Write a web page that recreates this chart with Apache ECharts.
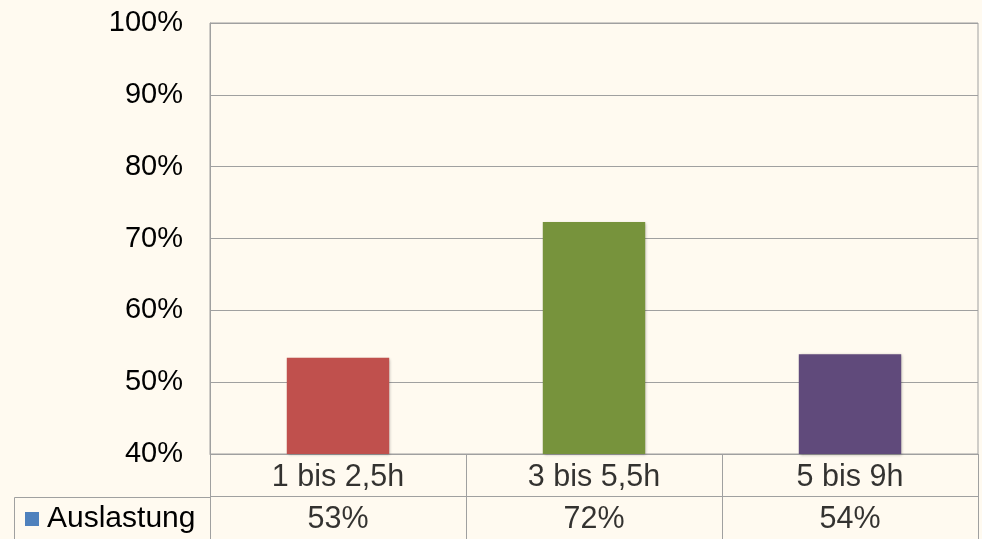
<!DOCTYPE html>
<html>
<head>
<meta charset="utf-8">
<script src="https://cdn.jsdelivr.net/npm/echarts@6/dist/echarts.min.js"></script>
<style>
html,body{margin:0;padding:0;background:#FFFAF0;}
#chart{width:982px;height:539px;}
</style>
</head>
<body>
<div id="chart"></div>
<script>
// Daten
var categories = ['1 bis 2,5h', '3 bis 5,5h', '5 bis 9h'];
var values = [53.4, 72.3, 53.9];
var barColors = ['#C0504D', '#77933C', '#604A7B'];
var seriesName = 'Auslastung';
var yTicks = { min: 40, max: 100, interval: 10 };

var FONT = '"Liberation Sans", Arial, sans-serif';
var GRID_LINE = '#A0A0A0';

var chart = echarts.init(document.getElementById('chart'));

// Tabellenzeilen unter dem Diagramm
var tableRows = ['cat', 'val'];
var tableData = [];
categories.forEach(function (c, i) {
	tableData.push({ value: [c, 'cat'], text: c });
	tableData.push({ value: [c, 'val'], text: Math.round(values[i]) + '%' });
});

var option = {
	backgroundColor: '#FFFAF0',
	textStyle: { fontFamily: FONT },
	legend: {
		data: [seriesName],
		left: 25,
		top: 504,
		icon: 'rect',
		itemWidth: 14,
		itemHeight: 14,
		itemGap: 0,
		padding: 0,
		textStyle: { fontSize: 30, color: '#000', fontFamily: FONT, padding: [0, 0, 0, 3] }
	},
	grid: [
		{ left: 210, right: 4, top: 23, bottom: 85, show: true, borderColor: GRID_LINE, borderWidth: 1, backgroundColor: 'transparent' },
		{ left: 210, right: 4, top: 454, height: 86 }
	],
	xAxis: [
		{
			type: 'category', gridIndex: 0, data: categories,
			axisLine: { show: true, lineStyle: { color: GRID_LINE } },
			axisTick: { show: false },
			axisLabel: { show: false }
		},
		{
			type: 'category', gridIndex: 1, data: categories,
			axisLine: { show: false },
			axisTick: { show: false },
			axisLabel: { show: false },
			splitLine: { show: true, lineStyle: { color: GRID_LINE } }
		}
	],
	yAxis: [
		{
			type: 'value', gridIndex: 0,
			min: yTicks.min, max: yTicks.max, interval: yTicks.interval,
			axisLine: { show: true, lineStyle: { color: GRID_LINE } },
			axisTick: { show: false },
			axisLabel: { formatter: '{value}%', fontSize: 29, color: '#000', margin: 27, fontFamily: FONT },
			splitLine: { show: true, lineStyle: { color: GRID_LINE } }
		},
		{
			type: 'category', gridIndex: 1, data: tableRows, inverse: true,
			axisLine: { show: false },
			axisTick: { show: false },
			axisLabel: { show: false },
			splitLine: { show: true, lineStyle: { color: GRID_LINE } }
		}
	],
	series: [
		{
			name: seriesName,
			type: 'bar',
			xAxisIndex: 0, yAxisIndex: 0,
			barWidth: '40%',
			itemStyle: { color: '#4F81BD' },
			data: values.map(function (v, i) {
				return {
					value: v,
					itemStyle: {
						color: barColors[i],
						shadowBlur: 3,
						shadowColor: 'rgba(0,0,0,0.3)',
						shadowOffsetX: 1,
						shadowOffsetY: 1
					}
				};
			})
		},
		{
			name: 'table',
			type: 'scatter',
			xAxisIndex: 1, yAxisIndex: 1,
			symbolSize: 1,
			itemStyle: { color: 'rgba(0,0,0,0)' },
			silent: true,
			label: {
				show: true,
				position: 'inside',
				offset: [0, 2],
				fontSize: 30.5,
				color: '#000',
				fontFamily: FONT,
				formatter: function (p) { return p.data.text; }
			},
			data: tableData
		}
	],
	graphic: [
		{
			type: 'polyline',
			shape: { points: [[14.5, 540], [14.5, 497.5], [210, 497.5]] },
			style: { stroke: GRID_LINE, fill: null, lineWidth: 1 },
			silent: true
		}
	]
};

chart.setOption(option);
</script>
</body>
</html>
